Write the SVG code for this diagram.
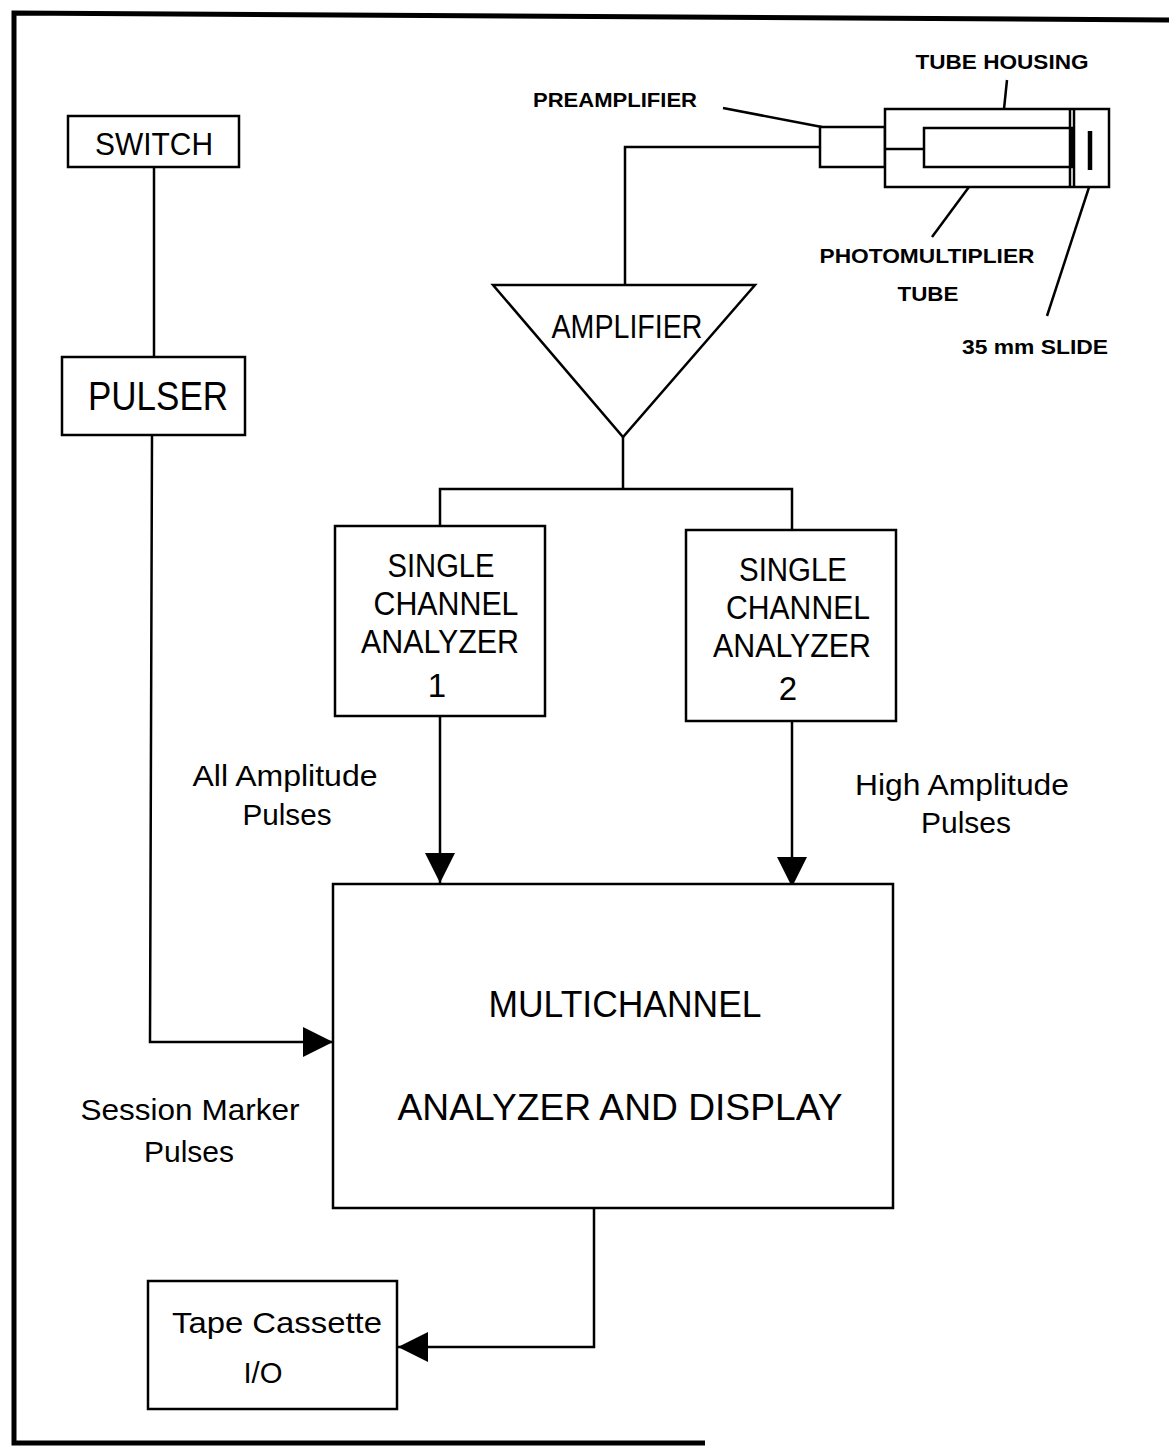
<svg xmlns="http://www.w3.org/2000/svg" width="1169" height="1449" viewBox="0 0 1169 1449">
<defs>
<style>
.box{fill:#fff;stroke:#000;stroke-width:2.5}
.ln{fill:none;stroke:#000;stroke-width:2.5}
.t{font-family:"Liberation Sans",Arial,sans-serif;fill:#000;text-anchor:middle}
.s{font-family:"Liberation Sans",Arial,sans-serif;fill:#000;text-anchor:middle;font-weight:bold;font-size:20px}
</style>
<marker id="arr" markerUnits="userSpaceOnUse" markerWidth="32" markerHeight="32" refX="30" refY="15" orient="auto">
<path d="M0,0 L30,15 L0,30 z" fill="#000"/>
</marker>
</defs>
<rect width="1169" height="1449" fill="#fff"/>
<g id="frame">
<path d="M1169,20 L14,13 L14,1443 L705,1443" fill="none" stroke="#000" stroke-width="5"/>
</g>
<g id="connectors">
<path class="ln" d="M154,167 L154,357"/>
<path class="ln" d="M152,435 L150,1042 L333,1042" marker-end="url(#arr)"/>
<path class="ln" d="M625,285 L625,147 L820,147"/>
<path class="ln" d="M623,437 L623,489"/>
<path class="ln" d="M440,526 L440,489 L792,489 L792,530"/>
<path class="ln" d="M440,716 L440,883" marker-end="url(#arr)"/>
<path class="ln" d="M792,721 L792,887" marker-end="url(#arr)"/>
<path class="ln" d="M594,1208 L594,1347 L398,1347" marker-end="url(#arr)"/>
<path class="ln" d="M723,108 L822,127"/>
<path class="ln" d="M1007,80 L1004,109"/>
<path class="ln" d="M932,237 L983,168"/>
<path class="ln" d="M1047,316 L1094,172"/>
</g>
<g id="switch">
<rect class="box" x="68" y="116" width="171" height="51"/>
<text class="t" x="154" y="155" font-size="32" textLength="118" lengthAdjust="spacingAndGlyphs">SWITCH</text>
</g>
<g id="pulser">
<rect class="box" x="62" y="357" width="183" height="78"/>
<text class="t" x="158" y="410" font-size="40" textLength="140" lengthAdjust="spacingAndGlyphs">PULSER</text>
</g>
<g id="amplifier">
<path class="box" d="M493,285 L755,285 L623,437 Z"/>
<text class="t" x="627" y="338" font-size="34" textLength="151" lengthAdjust="spacingAndGlyphs">AMPLIFIER</text>
</g>
<g id="sca1">
<rect class="box" x="335" y="526" width="210" height="190"/>
<text class="t" x="441" y="577" font-size="33" textLength="107" lengthAdjust="spacingAndGlyphs">SINGLE</text>
<text class="t" x="446" y="615" font-size="33" textLength="145" lengthAdjust="spacingAndGlyphs">CHANNEL</text>
<text class="t" x="440" y="653" font-size="33" textLength="158" lengthAdjust="spacingAndGlyphs">ANALYZER</text>
<text class="t" x="437" y="697" font-size="33">1</text>
</g>
<g id="sca2">
<rect class="box" x="686" y="530" width="210" height="191"/>
<text class="t" x="793" y="581" font-size="33" textLength="108" lengthAdjust="spacingAndGlyphs">SINGLE</text>
<text class="t" x="798" y="619" font-size="33" textLength="144" lengthAdjust="spacingAndGlyphs">CHANNEL</text>
<text class="t" x="792" y="657" font-size="33" textLength="158" lengthAdjust="spacingAndGlyphs">ANALYZER</text>
<text class="t" x="788" y="700" font-size="33">2</text>
</g>
<g id="mca">
<rect class="box" x="333" y="884" width="560" height="324"/>
<text class="t" x="625" y="1017" font-size="37" textLength="273" lengthAdjust="spacingAndGlyphs">MULTICHANNEL</text>
<text class="t" x="620" y="1120" font-size="37" textLength="445" lengthAdjust="spacingAndGlyphs">ANALYZER AND DISPLAY</text>
</g>
<g id="tape">
<rect class="box" x="148" y="1281" width="249" height="128"/>
<text class="t" x="277" y="1333" font-size="30" textLength="210" lengthAdjust="spacingAndGlyphs">Tape Cassette</text>
<text class="t" x="263" y="1383" font-size="30" textLength="39" lengthAdjust="spacingAndGlyphs">I/O</text>
</g>
<g id="labels">
<text class="t" x="285" y="786" font-size="29" textLength="185" lengthAdjust="spacingAndGlyphs">All Amplitude</text>
<text class="t" x="287" y="825" font-size="29" textLength="89" lengthAdjust="spacingAndGlyphs">Pulses</text>
<text class="t" x="962" y="795" font-size="29" textLength="214" lengthAdjust="spacingAndGlyphs">High Amplitude</text>
<text class="t" x="966" y="833" font-size="29" textLength="90" lengthAdjust="spacingAndGlyphs">Pulses</text>
<text class="t" x="190" y="1120" font-size="29" textLength="219" lengthAdjust="spacingAndGlyphs">Session Marker</text>
<text class="t" x="189" y="1162" font-size="29" textLength="90" lengthAdjust="spacingAndGlyphs">Pulses</text>
</g>
<g id="detector">
<rect class="box" x="820" y="127" width="65" height="40"/>
<rect class="box" x="885" y="109" width="224" height="78"/>
<rect class="box" x="924" y="128" width="148" height="39"/>
<path class="ln" d="M885,149 L924,149"/>
<path class="ln" d="M1070,109 L1070,187 M1074,109 L1074,187"/>
<path d="M1090,131 L1090,170" stroke="#000" stroke-width="4.5" fill="none"/>
<text class="s" x="615" y="107" textLength="164" lengthAdjust="spacingAndGlyphs">PREAMPLIFIER</text>
<text class="s" x="1002" y="69" textLength="173" lengthAdjust="spacingAndGlyphs">TUBE HOUSING</text>
<text class="s" x="927" y="263" textLength="215" lengthAdjust="spacingAndGlyphs">PHOTOMULTIPLIER</text>
<text class="s" x="928" y="301" textLength="61" lengthAdjust="spacingAndGlyphs">TUBE</text>
<text class="s" x="1035" y="354" textLength="146" lengthAdjust="spacingAndGlyphs">35 mm SLIDE</text>
</g>
</svg>
